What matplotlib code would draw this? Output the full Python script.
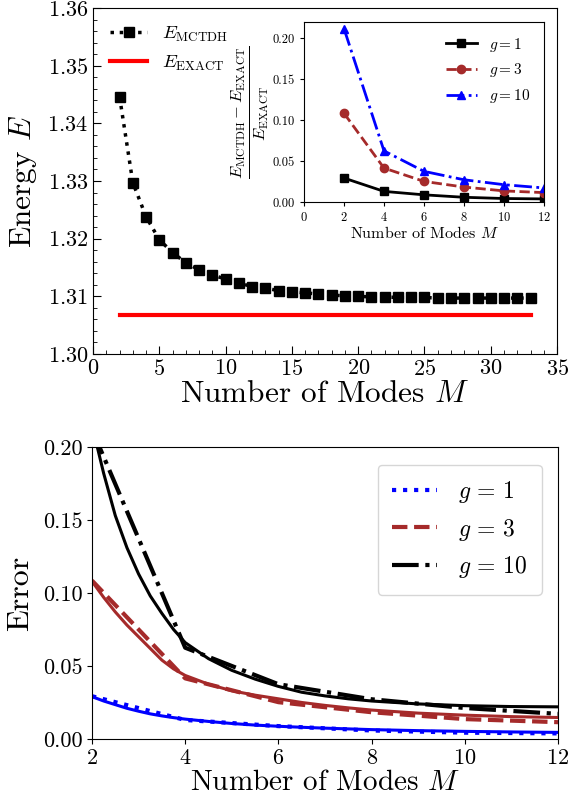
import numpy as np
import matplotlib
matplotlib.use('Agg')
import matplotlib.pyplot as plt
from matplotlib.ticker import MultipleLocator

plt.rcParams['font.family'] = 'serif'
plt.rcParams['font.serif'] = ['cmr10']
plt.rcParams['mathtext.fontset'] = 'cm'
plt.rcParams['axes.formatter.use_mathtext'] = True
plt.rcParams['axes.unicode_minus'] = False

# top panel: energy vs number of modes
modes = list(range(2, 34))
e_mctdh = [1.3446, 1.3297, 1.3238, 1.3198, 1.3176, 1.3158, 1.3146, 1.3137,
           1.3130, 1.3123, 1.3117, 1.3114, 1.3110, 1.3108, 1.3106, 1.3104,
           1.3102, 1.3101, 1.3100, 1.3099, 1.3099, 1.3098, 1.3098, 1.3098,
           1.3097, 1.3097, 1.3097, 1.3097, 1.3097, 1.3097, 1.3097, 1.3097]
e_exact = 1.3067

# relative errors (inset and bottom panel)
m_err = [2, 4, 6, 8, 10, 12]
err_g1 = [0.0293, 0.0130, 0.0088, 0.0058, 0.0043, 0.0038]
err_g3 = [0.1085, 0.0415, 0.0252, 0.0183, 0.0136, 0.0115]
err_g10 = [0.212, 0.0625, 0.0375, 0.0272, 0.0212, 0.0172]

# fitted curves
m_fit = [2, 2.25, 2.5, 2.75, 3, 3.25, 3.5, 3.75, 4, 4.5, 5, 5.5, 6, 6.5,
         7, 7.5, 8, 9, 10, 11, 12]
fit_g1 = [0.029, 0.026, 0.0235, 0.021, 0.019, 0.0172, 0.0158, 0.0146, 0.0136,
          0.012, 0.0106, 0.0095, 0.0087, 0.008, 0.0074, 0.0069, 0.0064,
          0.0057, 0.0052, 0.0048, 0.0045]
fit_g3 = [0.108, 0.097, 0.087, 0.078, 0.070, 0.062, 0.054, 0.048, 0.0435,
          0.0375, 0.033, 0.030, 0.0275, 0.025, 0.023, 0.0213, 0.0198,
          0.0177, 0.0163, 0.0153, 0.0147]
fit_g10 = [0.215, 0.182, 0.153, 0.131, 0.113, 0.098, 0.086, 0.075, 0.066,
           0.055, 0.047, 0.041, 0.036, 0.032, 0.0295, 0.0275, 0.026, 0.024,
           0.0228, 0.0222, 0.022]

fig = plt.figure(figsize=(5.71, 8.02), dpi=100)

# ---- top panel ----
ax1 = fig.add_axes([0.163, 0.5586, 0.8126, 0.4314])
ax1.plot(modes, e_mctdh, ls=':', lw=2.5, color='black', marker='s',
         markersize=6.5, label=r'$E_{\rm MCTDH}$')
ax1.plot([modes[0], modes[-1]], [e_exact, e_exact], color='red', lw=3,
         label=r'$E_{\rm EXACT}$')
ax1.set_xlim(0, 35)
ax1.set_ylim(1.30, 1.36)
ax1.xaxis.set_major_locator(MultipleLocator(5))
ax1.xaxis.set_minor_locator(MultipleLocator(1))
ax1.yaxis.set_major_locator(MultipleLocator(0.01))
ax1.yaxis.set_minor_locator(MultipleLocator(0.002))
ax1.tick_params(which='both', direction='in', labelsize=16)
ax1.tick_params(which='major', length=6)
ax1.tick_params(which='minor', length=3)
ax1.set_xlabel(r'Number of Modes $M$', fontsize=22.5, labelpad=1)
ax1.set_ylabel(r'Energy $E$', fontsize=22.5, labelpad=6)
ax1.legend(loc='upper left', frameon=False, fontsize=13.5,
           bbox_to_anchor=(0.0, 1.0))

# ---- inset ----
ax2 = fig.add_axes([0.5324, 0.7481, 0.4203, 0.2244])
ax2.plot(m_err, err_g1, color='black', ls='-', lw=2, marker='s',
         markersize=6, label=r'$g=1$')
ax2.plot(m_err, err_g3, color='brown', ls='--', lw=2, marker='o',
         markersize=6, label=r'$g=3$')
ax2.plot(m_err, err_g10, color='blue', ls='-.', lw=2, marker='^',
         markersize=6, label=r'$g=10$')
ax2.set_xlim(0, 12)
ax2.set_ylim(0, 0.22)
ax2.set_xticks(range(0, 13, 2))
ax2.set_yticks([0, 0.05, 0.10, 0.15, 0.20])
ax2.yaxis.set_major_formatter(plt.FormatStrFormatter('%.2f'))
ax2.tick_params(labelsize=9, length=3)
ax2.set_xlabel(r'Number of Modes $M$', fontsize=11.5, labelpad=1)
ax2.set_ylabel(r'$\frac{E_{\rm MCTDH}-E_{\rm EXACT}}{E_{\rm EXACT}}$',
               fontsize=17, labelpad=2)
ax2.legend(loc='upper right', frameon=False, fontsize=11)

# ---- bottom panel ----
ax3 = fig.add_axes([0.1611, 0.0786, 0.8161, 0.3641])
ax3.plot(m_err, err_g1, color='blue', ls=':', lw=3, label=r'$g\,=\,1$')
ax3.plot(m_err, err_g3, color='brown', ls='--', lw=3, label=r'$g\,=\,3$')
ax3.plot(m_err, err_g10, color='black', ls='-.', lw=3, label=r'$g\,=\,10$')
ax3.plot(m_fit, fit_g1, color='blue', lw=2.2)
ax3.plot(m_fit, fit_g3, color='brown', lw=2.2)
ax3.plot(m_fit, fit_g10, color='black', lw=2.2)
ax3.set_xlim(2, 12)
ax3.set_ylim(0, 0.20)
ax3.set_xticks(range(2, 13, 2))
ax3.set_yticks([0, 0.05, 0.10, 0.15, 0.20])
ax3.yaxis.set_major_formatter(plt.FormatStrFormatter('%.2f'))
ax3.tick_params(labelsize=16)
ax3.set_xlabel(r'Number of Modes $M$', fontsize=21, labelpad=1)
ax3.set_ylabel('Error', fontsize=23, labelpad=6)
ax3.legend(loc='upper right', fontsize=17, handlelength=1.9,
           handletextpad=0.9, borderpad=0.6, bbox_to_anchor=(0.99, 0.98))

plt.savefig('out.png', dpi=100)
plt.close()
